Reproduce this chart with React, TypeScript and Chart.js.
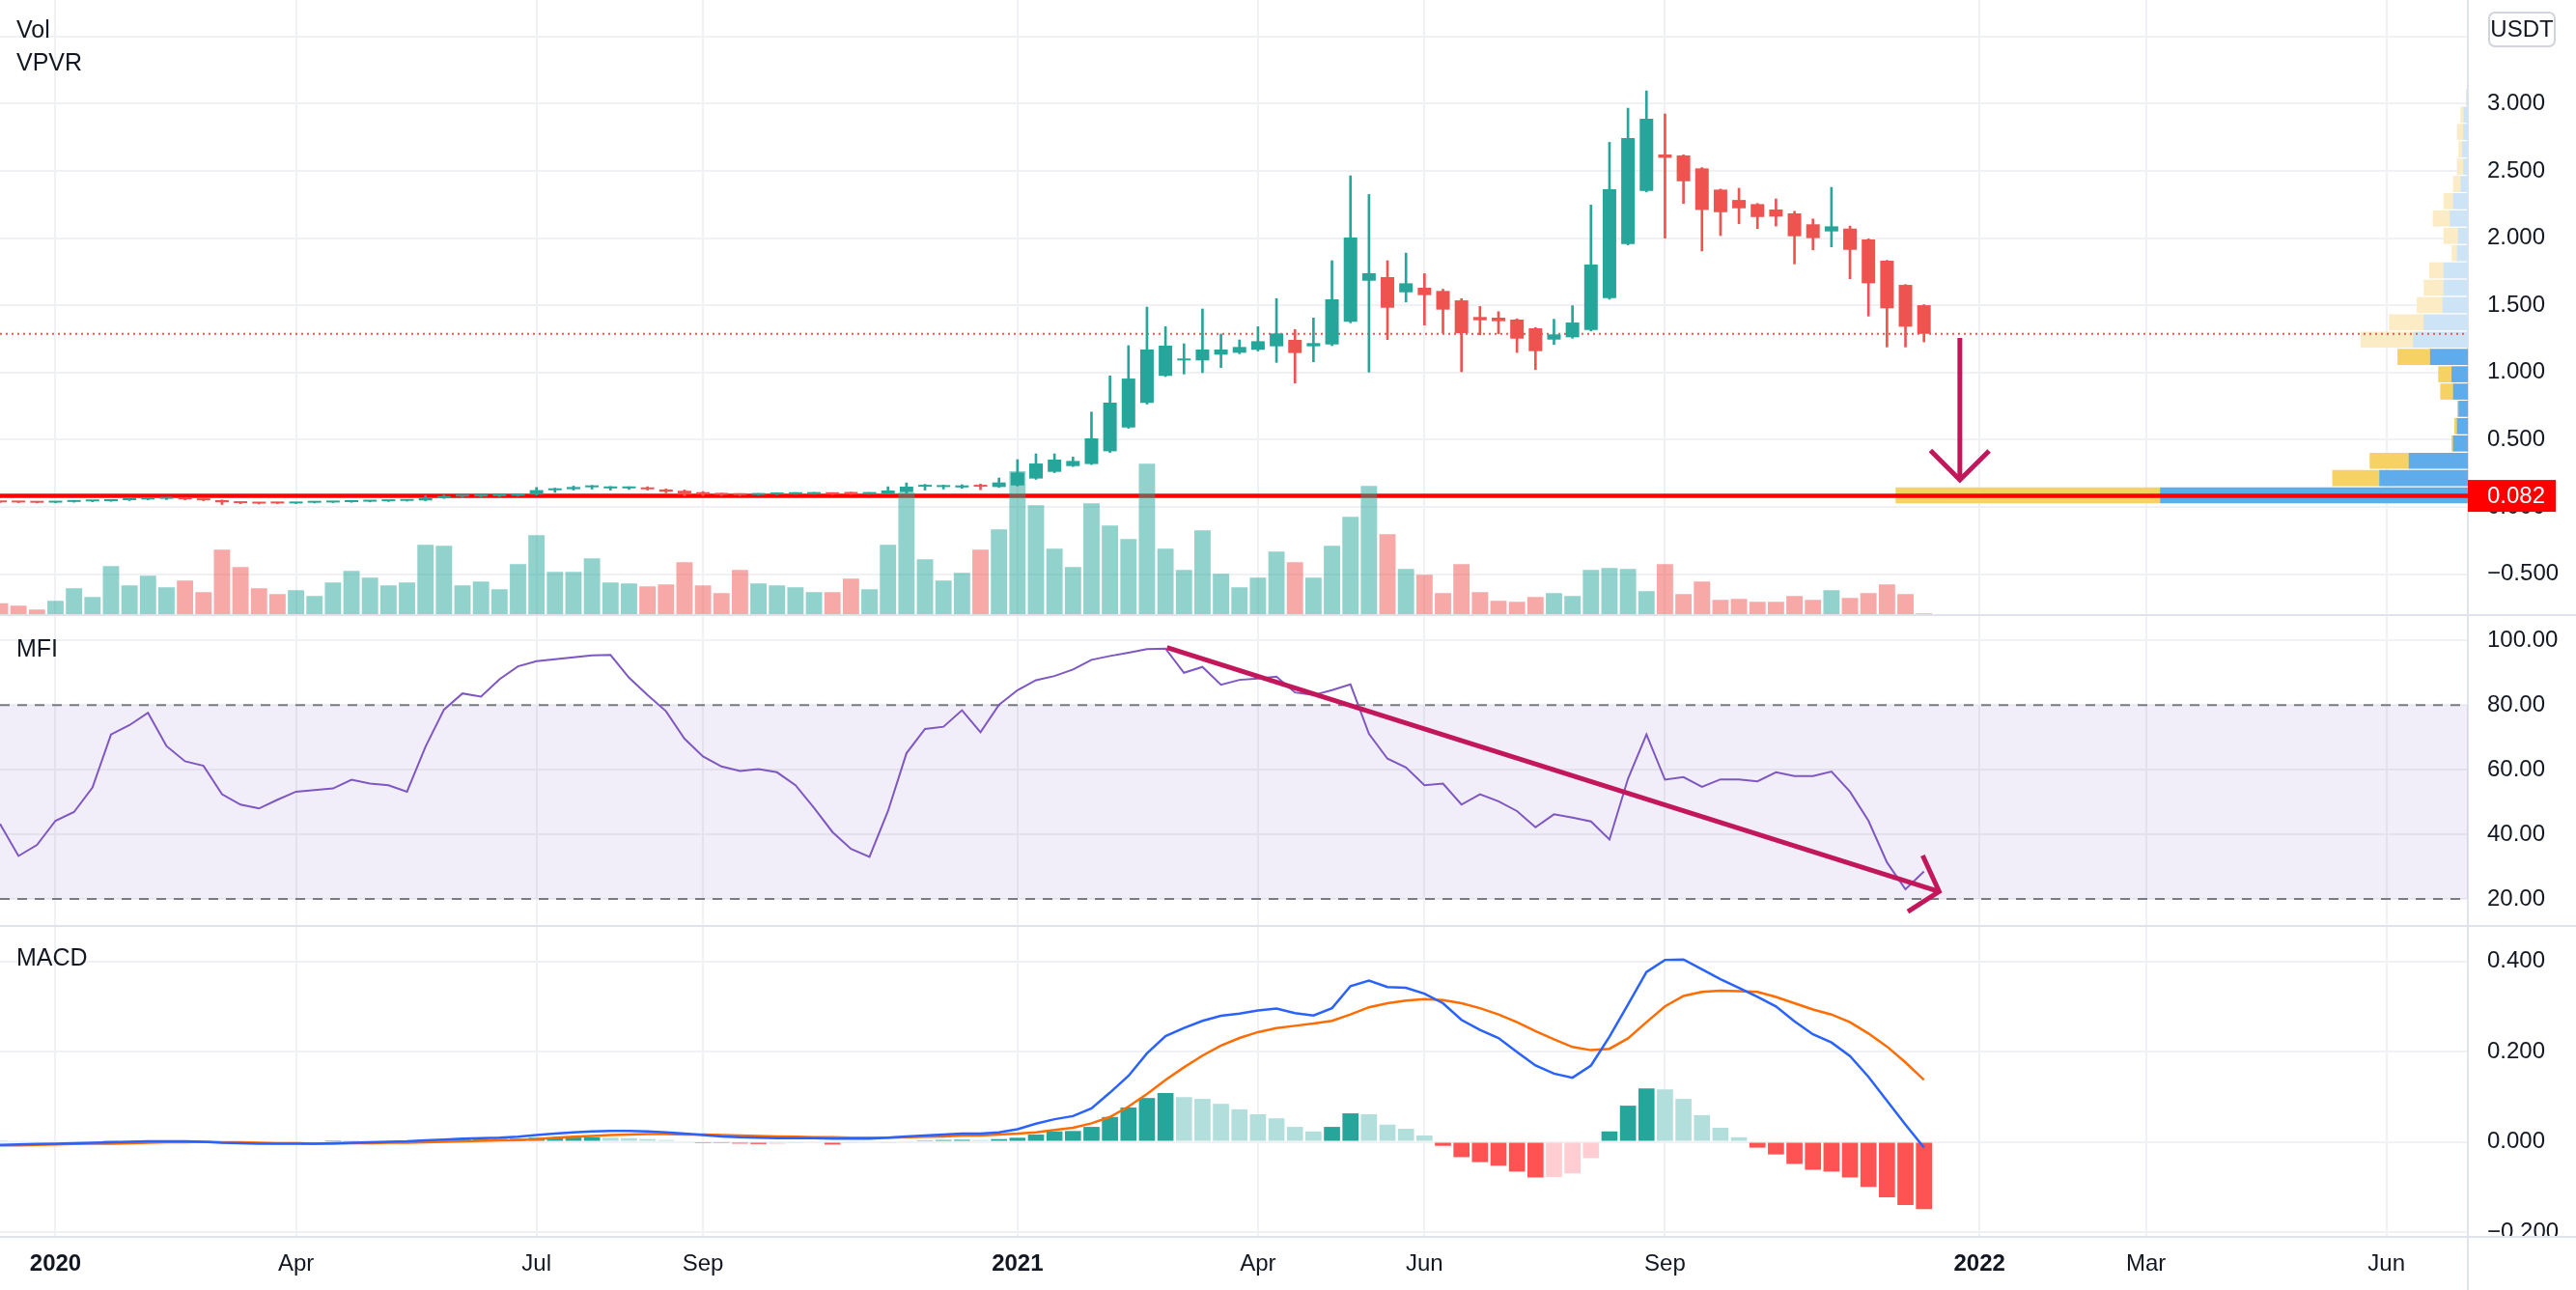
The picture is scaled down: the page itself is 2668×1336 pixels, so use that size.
import React, { useEffect, useRef } from 'react';
import { Chart, registerables } from 'chart.js';

Chart.register(...registerables);

const FONT = "'Liberation Sans', Arial, sans-serif";
Chart.defaults.font.family = FONT;
Chart.defaults.font.size = 24;
Chart.defaults.color = '#131722';

// ---------------- data ----------------
// weekly bars; week 0 = first weekly bar of 2020
const FIRST_WEEK = -3;

const OPEN = [
  0.037, 0.034, 0.033, 0.032, 0.037, 0.041, 0.043, 0.050, 0.055, 0.060,
  0.062, 0.056, 0.050, 0.034, 0.028, 0.028, 0.026, 0.031, 0.033, 0.036,
  0.039, 0.042, 0.045, 0.048, 0.066, 0.077, 0.078, 0.080, 0.083, 0.092,
  0.124, 0.132, 0.146, 0.138, 0.138, 0.142, 0.130, 0.120, 0.110, 0.100,
  0.095, 0.089, 0.093, 0.095, 0.096, 0.101, 0.106, 0.096, 0.097, 0.110,
  0.150, 0.148, 0.145, 0.155, 0.148, 0.160, 0.211, 0.261, 0.304, 0.319,
  0.414, 0.591, 0.774, 0.975, 1.090, 1.090, 1.133, 1.147, 1.169, 1.195,
  1.243, 1.195, 1.209, 1.377, 1.683, 1.710, 1.597, 1.631, 1.607, 1.537,
  1.413, 1.408, 1.394, 1.329, 1.245, 1.262, 1.317, 1.554, 1.956, 2.351,
  2.622, 2.615, 2.519, 2.361, 2.284, 2.253, 2.213, 2.184, 2.103, 2.050,
  2.071, 1.990, 1.832, 1.652, 1.501,
];
const HIGH = [
  0.039, 0.036, 0.035, 0.039, 0.044, 0.045, 0.053, 0.058, 0.069, 0.066,
  0.064, 0.058, 0.052, 0.036, 0.031, 0.030, 0.033, 0.034, 0.038, 0.040,
  0.044, 0.047, 0.050, 0.085, 0.088, 0.084, 0.084, 0.086, 0.098, 0.145,
  0.140, 0.155, 0.160, 0.152, 0.150, 0.150, 0.133, 0.126, 0.114, 0.102,
  0.099, 0.100, 0.106, 0.107, 0.108, 0.106, 0.110, 0.107, 0.150, 0.179,
  0.168, 0.162, 0.165, 0.170, 0.215, 0.352, 0.395, 0.395, 0.371, 0.706,
  0.975, 1.200, 1.487, 1.341, 1.214, 1.473, 1.286, 1.243, 1.341, 1.550,
  1.320, 1.406, 1.832, 2.464, 2.325, 1.832, 1.889, 1.736, 1.620, 1.550,
  1.492, 1.453, 1.400, 1.335, 1.396, 1.497, 2.246, 2.713, 2.967, 3.096,
  2.924, 2.620, 2.525, 2.365, 2.371, 2.258, 2.292, 2.200, 2.143, 2.378,
  2.090, 1.995, 1.835, 1.655, 1.505,
];
const LOW = [
  0.033, 0.032, 0.030, 0.031, 0.035, 0.038, 0.041, 0.047, 0.052, 0.054,
  0.052, 0.046, 0.018, 0.024, 0.022, 0.024, 0.025, 0.029, 0.032, 0.034,
  0.037, 0.040, 0.043, 0.046, 0.063, 0.070, 0.074, 0.076, 0.080, 0.088,
  0.108, 0.125, 0.132, 0.125, 0.130, 0.125, 0.105, 0.082, 0.085, 0.084,
  0.084, 0.087, 0.090, 0.093, 0.094, 0.092, 0.093, 0.094, 0.095, 0.100,
  0.125, 0.133, 0.138, 0.128, 0.145, 0.155, 0.205, 0.255, 0.300, 0.315,
  0.405, 0.585, 0.765, 0.970, 0.989, 0.999, 1.037, 1.140, 1.160, 1.075,
  0.922, 1.080, 1.200, 1.370, 1.003, 1.245, 1.525, 1.353, 1.293, 1.006,
  1.281, 1.288, 1.149, 1.022, 1.209, 1.255, 1.310, 1.545, 1.950, 2.345,
  2.000, 2.258, 1.904, 2.019, 2.107, 2.071, 2.090, 1.808, 1.913, 1.935,
  1.698, 1.420, 1.190, 1.190, 1.228,
];
const CLOSE = [
  0.034, 0.033, 0.031, 0.037, 0.041, 0.043, 0.050, 0.055, 0.060, 0.062,
  0.056, 0.049, 0.034, 0.028, 0.025, 0.026, 0.031, 0.033, 0.036, 0.039,
  0.042, 0.045, 0.048, 0.066, 0.078, 0.080, 0.081, 0.083, 0.092, 0.125,
  0.132, 0.148, 0.152, 0.142, 0.143, 0.131, 0.113, 0.092, 0.093, 0.090,
  0.088, 0.096, 0.103, 0.103, 0.104, 0.095, 0.097, 0.103, 0.122, 0.151,
  0.163, 0.155, 0.160, 0.150, 0.182, 0.256, 0.323, 0.352, 0.342, 0.510,
  0.776, 0.955, 1.171, 1.200, 1.098, 1.171, 1.171, 1.190, 1.233, 1.291,
  1.145, 1.219, 1.545, 2.004, 1.739, 1.482, 1.664, 1.576, 1.468, 1.293,
  1.389, 1.382, 1.252, 1.159, 1.284, 1.372, 1.803, 2.363, 2.744, 2.888,
  2.598, 2.423, 2.210, 2.193, 2.222, 2.157, 2.160, 2.014, 2.000, 2.088,
  1.913, 1.664, 1.478, 1.341, 1.288,
];
// weekly volume, millions
const VOLUME = [
  530, 430, 270, 630, 1150, 790, 2070, 1270, 1670, 1190,
  1470, 990, 2750, 2030, 1150, 910, 1070, 830, 1390, 1870,
  1590, 1270, 1390, 2950, 2910, 1270, 1430, 1110, 2150, 3350,
  1830, 1830, 2390, 1390, 1350, 1230, 1310, 2230, 1270, 950,
  1910, 1350, 1270, 1190, 990, 990, 1550, 1110, 2950, 5120,
  2350, 1470, 1790, 2750, 3590, 6000, 4590, 2790, 2030, 4670,
  3750, 3190, 6310, 2790, 1910, 3550, 1750, 1190, 1590, 2670,
  2230, 1590, 2910, 4110, 5390, 3390, 1950, 1710, 950, 2150,
  990, 630, 590, 790, 950, 830, 1910, 1990, 1950, 1030,
  2150, 910, 1430, 670, 710, 590, 590, 830, 670, 1070,
  750, 950, 1310, 910, 110,
];
const MFI = [
  43.2, 33.3, 36.7, 44.2, 46.9, 54.5, 70.9, 73.8, 77.6, 67.3,
  62.6, 61.2, 52.4, 49.2, 48.0, 50.7, 53.2, 53.7, 54.2, 56.9,
  55.7, 55.2, 53.2, 67.1, 78.6, 83.6, 82.6, 88.0, 92.0, 93.6,
  94.2, 94.8, 95.4, 95.5, 88.5, 83.1, 78.1, 69.6, 64.1, 61.0,
  59.6, 60.2, 59.2, 55.2, 48.2, 40.7, 35.5, 33.0, 47.2, 65.1,
  72.6, 73.3, 78.4, 71.6, 80.1, 84.6, 87.7, 89.0, 91.0, 94.0,
  95.2, 96.2, 97.3, 97.5, 90.0, 91.8, 86.3, 87.8, 88.2, 88.8,
  83.9, 83.1, 84.6, 86.4, 71.1, 63.4, 60.7, 55.2, 55.7, 49.2,
  52.4, 50.2, 47.2, 42.2, 46.2, 45.2, 44.0, 38.4, 57.2, 70.9,
  56.9, 57.7, 54.7, 57.0, 57.0, 56.4, 59.2, 58.0, 58.0, 59.4,
  53.2, 44.2, 31.3, 23.0, 28.5,
];
const MACD = [
  -0.007, -0.006, -0.005, -0.004, -0.003, -0.002, -0.001, 0.000, 0.001, 0.001,
  0.001, 0.000, -0.002, -0.003, -0.004, -0.004, -0.004, -0.004, -0.003, -0.002,
  -0.001, 0.000, 0.001, 0.003, 0.005, 0.007, 0.008, 0.009, 0.011, 0.015,
  0.018, 0.021, 0.023, 0.024, 0.024, 0.023, 0.021, 0.018, 0.015, 0.012,
  0.010, 0.009, 0.008, 0.008, 0.008, 0.007, 0.007, 0.007, 0.009, 0.012,
  0.014, 0.016, 0.018, 0.018, 0.021, 0.028, 0.040, 0.050, 0.057, 0.074,
  0.109, 0.146, 0.196, 0.234, 0.252, 0.268, 0.279, 0.284, 0.291, 0.295,
  0.285, 0.280, 0.296, 0.345, 0.357, 0.343, 0.341, 0.328, 0.307, 0.270,
  0.248, 0.230, 0.199, 0.169, 0.151, 0.142, 0.169, 0.233, 0.304, 0.376,
  0.403, 0.404, 0.382, 0.360, 0.341, 0.321, 0.300, 0.267, 0.238, 0.220,
  0.190, 0.144, 0.091, 0.038, -0.013,
];
const SIGNAL = [
  -0.008, -0.008, -0.007, -0.006, -0.005, -0.004, -0.004, -0.003, -0.002, -0.001,
  -0.001, 0.000, -0.001, -0.001, -0.002, -0.003, -0.003, -0.004, -0.004, -0.003,
  -0.003, -0.002, -0.002, -0.001, 0.000, 0.001, 0.002, 0.003, 0.004, 0.006,
  0.009, 0.011, 0.013, 0.015, 0.016, 0.017, 0.017, 0.016, 0.016, 0.015,
  0.014, 0.013, 0.012, 0.011, 0.010, 0.010, 0.009, 0.009, 0.009, 0.010,
  0.011, 0.012, 0.014, 0.014, 0.016, 0.018, 0.021, 0.026, 0.031, 0.041,
  0.055, 0.078, 0.106, 0.137, 0.165, 0.191, 0.213, 0.230, 0.243, 0.252,
  0.257, 0.262, 0.268, 0.282, 0.298, 0.307, 0.313, 0.316, 0.314, 0.307,
  0.296, 0.282, 0.265, 0.245, 0.227, 0.210, 0.203, 0.206, 0.229, 0.265,
  0.300, 0.323, 0.332, 0.335, 0.334, 0.332, 0.321, 0.307, 0.293, 0.282,
  0.265, 0.240, 0.211, 0.176, 0.137,
];
const HIST = [
  0.001, 0.002, 0.002, 0.002, 0.002, 0.002, 0.003, 0.003, 0.003, 0.002,
  0.002, 0.000, -0.001, -0.002, -0.002, -0.001, -0.0005, 0.000, 0.001, 0.001,
  0.002, 0.002, 0.003, 0.004, 0.005, 0.006, 0.0062, 0.0065, 0.007, 0.009,
  0.0092, 0.010, 0.0102, 0.009, 0.008, 0.006, 0.004, 0.002, -0.001, -0.003,
  -0.004, -0.005, -0.0045, -0.003, -0.002, -0.006, -0.003, -0.002, -0.001, 0.002,
  0.003, 0.004, 0.0045, 0.004, 0.006, 0.009, 0.016, 0.023, 0.024, 0.033,
  0.055, 0.076, 0.097, 0.108, 0.099, 0.095, 0.084, 0.072, 0.061, 0.052,
  0.033, 0.023, 0.033, 0.063, 0.061, 0.038, 0.029, 0.014, -0.009, -0.034,
  -0.045, -0.053, -0.066, -0.079, -0.078, -0.070, -0.036, 0.023, 0.080, 0.118,
  0.116, 0.095, 0.059, 0.031, 0.010, -0.013, -0.028, -0.049, -0.062, -0.066,
  -0.079, -0.100, -0.123, -0.140, -0.149,
];

const X_TICK_WEEKS = [0, 13, 26, 35, 52, 65, 74, 87, 104, 113, 126];
const X_TICK_LABELS = ['2020', 'Apr', 'Jul', 'Sep', '2021', 'Apr', 'Jun', 'Sep', '2022', 'Mar', 'Jun'];
const PRICE_TICKS = [-0.5, 0, 0.5, 1, 1.5, 2, 2.5, 3, 3.5];
const PRICE_TICK_LABELS = ['\u22120.500', '0.000', '0.500', '1.000', '1.500', '2.000', '2.500', '3.000', ''];
const MFI_TICKS = [20, 40, 60, 80, 100];
const MFI_TICK_LABELS = ['20.00', '40.00', '60.00', '80.00', '100.00'];
const MACD_TICKS = [-0.2, 0, 0.2, 0.4];
const MACD_TICK_LABELS = ['\u22120.200', '0.000', '0.200', '0.400'];

const SUPPORT_LEVEL = 0.082;
const MFI_BANDS = [20, 80];
const QUOTE_CURRENCY = 'USDT';
const MAIN_LEGEND = ['Vol', 'VPVR'];
const MFI_LEGEND = 'MFI';
const MACD_LEGEND = 'MACD';

// visible-range volume profile (row price, up volume, down volume), millions
const VP_PRICES = [
  0.086, 0.215, 0.343, 0.472, 0.601, 0.730, 0.858, 0.987, 1.116, 1.245, 1.373, 1.502,
  1.631, 1.760, 1.888, 2.017, 2.146, 2.275, 2.403, 2.532, 2.661, 2.790, 2.918, 3.047,
];
const VP_UP = [
  31840, 9140, 6090, 1500, 1100, 940, 1500, 1660, 3880, 5650, 4540, 2600,
  2500, 2500, 1100, 1000, 1830, 1500, 720, 450, 550, 450, 400, 110,
];
const VP_DOWN = [
  27400, 4870, 4050, 170, 280, 130, 1330, 1380, 3380, 5430, 3600, 2660,
  2040, 1490, 550, 1500, 1770, 1000, 780, 660, 390, 660, 330, 50,
];
const VP_VALUE_AREA_HIGH = 1.18;

// drawn arrows (week, value)
const PRICE_ARROW_SHAFT = [{ x: 102.94, y: 1.257 }, { x: 102.94, y: 0.201 }];
const PRICE_ARROW_HEAD = [{ x: 101.35, y: 0.42 }, { x: 102.94, y: 0.201 }, { x: 104.52, y: 0.417 }];
const MFI_ARROW_SHAFT = [{ x: 60.08, y: 97.8 }, { x: 101.82, y: 22.3 }];
const MFI_ARROW_HEAD = [{ x: 100.93, y: 33.45 }, { x: 101.82, y: 22.3 }, { x: 100.13, y: 16.1 }];

// ---------------- layout / style ----------------
const W = 2668;
const H = 1336;
const PANE_H = [638, 322, 376];
const PANE_TOP = [0, 638, 960];
const AXIS_W = 112;
const X_AXIS_H = 55;
const X_MIN = -3.0;
const X_MAX = 130.4;
const PRICE_MIN = -0.812;
const PRICE_MAX = 3.772;
const VOL_MAX = 25520;
const VP_MAX = 255600;
const MFI_MIN = 11.33;
const MFI_MAX = 107.56;
const MACD_MIN = -0.2107;
const MACD_MAX = 0.476;

const TEXT = '#131722';
const GRID = '#f0f1f4';
const PANE_LINE = '#e0e3eb';
const UP = '#26a69a';
const DOWN = '#ef5350';
const UP_VOL = 'rgba(38,166,154,0.5)';
const DOWN_VOL = 'rgba(239,83,80,0.5)';
const ARROW = '#c2185b';

const noPadding = (s: any) => {
  s.paddingTop = 0;
  s.paddingBottom = 0;
  s.paddingLeft = 0;
  s.paddingRight = 0;
};

const xAxis = (show: boolean): any => ({
  type: 'linear', axis: 'x', position: 'bottom', min: X_MIN, max: X_MAX, bounds: 'data', offset: false,
  afterBuildTicks: (s: any) => { s.ticks = X_TICK_WEEKS.map((v) => ({ value: v })); },
  afterFit: (s: any) => { s.height = show ? X_AXIS_H : 0; noPadding(s); },
  grid: { color: GRID, lineWidth: 2, drawTicks: false, offset: false },
  border: { display: false },
  ticks: {
    display: show, autoSkip: false, maxRotation: 0, minRotation: 0, padding: 14, color: TEXT,
    font: (c: any) => ({ family: FONT, size: 24, weight: /^\d{4}$/.test(X_TICK_LABELS[c.index] || '') ? 'bold' : 'normal' }),
    callback: (v: any) => { const k = X_TICK_WEEKS.indexOf(Number(v)); return k >= 0 ? X_TICK_LABELS[k] : ''; },
  },
});

const yAxis = (min: number, max: number, ticks: number[], labels: string[]): any => ({
  type: 'linear', axis: 'y', position: 'right', min, max, bounds: 'data',
  afterBuildTicks: (s: any) => { s.ticks = ticks.map((v) => ({ value: v })); },
  afterFit: (s: any) => { s.width = AXIS_W; noPadding(s); },
  grid: { color: GRID, lineWidth: 2, drawTicks: false },
  border: { display: true, color: PANE_LINE, width: 2 },
  ticks: {
    padding: 20, color: TEXT, font: { family: FONT, size: 24 },
    callback: (v: any) => { const k = ticks.indexOf(Number(v)); return k >= 0 ? labels[k] : ''; },
  },
});

const hiddenAxis = (axis: string, min: number, max: number, reverse = false): any => ({
  type: 'linear', axis, min, max, reverse, display: false, bounds: 'data', offset: false, grid: { offset: false },
  afterFit: noPadding,
});

const line = (data: any[], color: string, width: number, order: number, extra: any = {}): any => ({
  type: 'line', data, borderColor: color, borderWidth: width, pointRadius: 0, tension: 0,
  order, xAxisID: 'x', yAxisID: 'y', ...extra,
});

function legend(ctx: CanvasRenderingContext2D, text: string, y: number) {
  ctx.save();
  ctx.font = `25px ${FONT}`;
  ctx.fillStyle = TEXT;
  ctx.textAlign = 'left';
  ctx.textBaseline = 'middle';
  ctx.fillText(text, 17, y);
  ctx.restore();
}

export default function App() {
  const c1 = useRef<HTMLCanvasElement>(null);
  const c2 = useRef<HTMLCanvasElement>(null);
  const c3 = useRef<HTMLCanvasElement>(null);

  useEffect(() => {
    const weeks = OPEN.map((_, k) => FIRST_WEEK + k);
    const rising = OPEN.map((o, k) => CLOSE[k] >= o);
    const candleColors = rising.map((r) => (r ? UP : DOWN));
    const volColors = rising.map((r) => (r ? UP_VOL : DOWN_VOL));
    const lastClose = CLOSE[CLOSE.length - 1];
    const histColors = HIST.map((h, k) => {
      const prev = k > 0 ? HIST[k - 1] : h;
      if (h >= 0) return prev < h ? '#26a69a' : '#b2dfdb';
      return prev < h ? '#ffcdd2' : '#ff5252';
    });
    const inValueArea = VP_PRICES.map((p) => p <= VP_VALUE_AREA_HIGH);

    const common: any = {
      responsive: false, maintainAspectRatio: false, animation: false, devicePixelRatio: 1,
      events: [], layout: { padding: 0, autoPadding: false },
      plugins: { legend: { display: false }, tooltip: { enabled: false } },
    };

    const mainPlugin = {
      id: 'mainDecor',
      afterDraw(chart: any) {
        const { ctx, chartArea, scales } = chart;
        legend(ctx, MAIN_LEGEND[0], 32);
        legend(ctx, MAIN_LEGEND[1], 66);
        ctx.save();
        const bx = chartArea.right + 22;
        ctx.beginPath();
        if ((ctx as any).roundRect) (ctx as any).roundRect(bx, 13, 68, 35, 6); else ctx.rect(bx, 13, 68, 35);
        ctx.fillStyle = '#ffffff';
        ctx.fill();
        ctx.strokeStyle = '#d1d4dc';
        ctx.lineWidth = 2;
        ctx.stroke();
        ctx.font = `24px ${FONT}`;
        ctx.fillStyle = TEXT;
        ctx.textAlign = 'center';
        ctx.textBaseline = 'middle';
        ctx.fillText(QUOTE_CURRENCY, bx + 34, 31);
        const ys = scales.y.getPixelForValue(SUPPORT_LEVEL);
        ctx.fillStyle = '#ff0000';
        ctx.fillRect(chartArea.right, ys - 16.5, 91, 33);
        ctx.fillStyle = '#ffffff';
        ctx.textAlign = 'left';
        ctx.fillText(SUPPORT_LEVEL.toFixed(3), chartArea.right + 20, ys + 1);
        ctx.fillStyle = PANE_LINE;
        ctx.fillRect(0, chart.height - 2, chart.width, 2);
        ctx.restore();
      },
    };

    const mfiPlugin = {
      id: 'mfiDecor',
      beforeDatasetsDraw(chart: any) {
        const { ctx, chartArea, scales } = chart;
        const yTop = scales.y.getPixelForValue(MFI_BANDS[1]);
        const yBot = scales.y.getPixelForValue(MFI_BANDS[0]);
        ctx.save();
        ctx.fillStyle = 'rgba(126,87,194,0.1)';
        ctx.fillRect(chartArea.left, yTop, chartArea.right - chartArea.left, yBot - yTop);
        ctx.strokeStyle = '#787b86';
        ctx.lineWidth = 2;
        ctx.setLineDash([10, 8]);
        [yTop, yBot].forEach((yy) => {
          ctx.beginPath();
          ctx.moveTo(chartArea.left, yy);
          ctx.lineTo(chartArea.right, yy);
          ctx.stroke();
        });
        ctx.restore();
      },
      afterDraw(chart: any) {
        const { ctx } = chart;
        legend(ctx, MFI_LEGEND, 35.5);
        ctx.save();
        ctx.fillStyle = PANE_LINE;
        ctx.fillRect(0, chart.height - 2, chart.width, 2);
        ctx.restore();
      },
    };

    const macdPlugin = {
      id: 'macdDecor',
      afterDraw(chart: any) {
        const { ctx, chartArea } = chart;
        legend(ctx, MACD_LEGEND, 33.5);
        ctx.save();
        ctx.fillStyle = '#ffffff';
        ctx.fillRect(chartArea.right + 1, chartArea.bottom, chart.width - chartArea.right, chart.height - chartArea.bottom);
        ctx.fillStyle = PANE_LINE;
        ctx.fillRect(0, chartArea.bottom - 1, chart.width, 2);
        ctx.fillRect(chartArea.right - 1, chartArea.bottom, 2, chart.height - chartArea.bottom);
        ctx.restore();
      },
    };

    const mainChart = new Chart(c1.current as HTMLCanvasElement, {
      type: 'bar',
      data: {
        datasets: [
          line(PRICE_ARROW_SHAFT, ARROW, 5, 0, { borderCapStyle: 'butt' }),
          line(PRICE_ARROW_HEAD, ARROW, 5, 0, { borderJoinStyle: 'miter' }),
          {
            type: 'bar', data: weeks.map((w, k) => ({ x: w, y: [OPEN[k], CLOSE[k]] })),
            backgroundColor: candleColors, barPercentage: 0.73, categoryPercentage: 1, grouped: false,
            minBarLength: 2, order: 1, xAxisID: 'x', yAxisID: 'y',
          },
          {
            type: 'bar', data: weeks.map((w, k) => ({ x: w, y: [LOW[k], HIGH[k]] })),
            backgroundColor: candleColors, barThickness: 2, grouped: false, order: 2, xAxisID: 'x', yAxisID: 'y',
          },
          {
            type: 'bar', data: weeks.map((w, k) => ({ x: w, y: VOLUME[k] })),
            backgroundColor: volColors, barPercentage: 0.88, categoryPercentage: 1, grouped: false,
            order: 3, xAxisID: 'x', yAxisID: 'yv',
          },
          line([{ x: X_MIN, y: SUPPORT_LEVEL }, { x: X_MAX, y: SUPPORT_LEVEL }], '#ff0000', 4.5, 4),
          line([{ x: X_MIN, y: lastClose }, { x: X_MAX, y: lastClose }], DOWN, 2, 5, { borderDash: [2, 4] }),
          {
            type: 'bar', indexAxis: 'y', xAxisID: 'xv', yAxisID: 'yp',
            data: VP_PRICES.map((p, k) => ({ y: p, x: [0, VP_UP[k]] })),
            backgroundColor: inValueArea.map((v) => (v ? '#5eaceb' : '#cde3f6')),
            barThickness: 16, grouped: false, order: 6,
          },
          {
            type: 'bar', indexAxis: 'y', xAxisID: 'xv', yAxisID: 'yp',
            data: VP_PRICES.map((p, k) => ({ y: p, x: [VP_UP[k], VP_UP[k] + VP_DOWN[k]] })),
            backgroundColor: inValueArea.map((v) => (v ? '#f6d265' : '#fbecc6')),
            barThickness: 16, grouped: false, order: 7,
          },
        ] as any,
      },
      options: {
        ...common,
        scales: {
          x: xAxis(false),
          y: yAxis(PRICE_MIN, PRICE_MAX, PRICE_TICKS, PRICE_TICK_LABELS),
          yv: hiddenAxis('y', 0, VOL_MAX),
          yp: hiddenAxis('y', PRICE_MIN, PRICE_MAX),
          xv: hiddenAxis('x', 0, VP_MAX, true),
        },
      } as any,
      plugins: [mainPlugin],
    });

    const mfiChart = new Chart(c2.current as HTMLCanvasElement, {
      type: 'line',
      data: {
        datasets: [
          line(MFI_ARROW_SHAFT, ARROW, 5, 0, { borderCapStyle: 'butt' }),
          line(MFI_ARROW_HEAD, ARROW, 5, 0, { borderJoinStyle: 'miter' }),
          line(weeks.map((w, k) => ({ x: w, y: MFI[k] })), '#7e57c2', 2, 1),
        ] as any,
      },
      options: {
        ...common,
        scales: {
          x: xAxis(false),
          y: yAxis(MFI_MIN, MFI_MAX, MFI_TICKS, MFI_TICK_LABELS),
        },
      } as any,
      plugins: [mfiPlugin],
    });

    const macdChart = new Chart(c3.current as HTMLCanvasElement, {
      type: 'bar',
      data: {
        datasets: [
          line(weeks.map((w, k) => ({ x: w, y: MACD[k] })), '#2962ff', 2.5, 0),
          line(weeks.map((w, k) => ({ x: w, y: SIGNAL[k] })), '#ff6d00', 2.5, 1),
          {
            type: 'bar', data: weeks.map((w, k) => ({ x: w, y: HIST[k] })),
            backgroundColor: histColors, barPercentage: 0.87, categoryPercentage: 1, grouped: false,
            order: 2, xAxisID: 'x', yAxisID: 'y',
          },
        ] as any,
      },
      options: {
        ...common,
        scales: {
          x: xAxis(true),
          y: yAxis(MACD_MIN, MACD_MAX, MACD_TICKS, MACD_TICK_LABELS),
        },
      } as any,
      plugins: [macdPlugin],
    });

    return () => {
      mainChart.destroy();
      mfiChart.destroy();
      macdChart.destroy();
    };
  }, []);

  const canvasStyle = (k: number): React.CSSProperties => ({
    position: 'absolute', left: 0, top: PANE_TOP[k], width: W, height: PANE_H[k], display: 'block',
  });

  return (
    <div style={{ position: 'fixed', left: 0, top: 0, width: W, height: H, background: '#ffffff', overflow: 'hidden' }}>
      <canvas ref={c1} width={W} height={PANE_H[0]} style={canvasStyle(0)} />
      <canvas ref={c2} width={W} height={PANE_H[1]} style={canvasStyle(1)} />
      <canvas ref={c3} width={W} height={PANE_H[2]} style={canvasStyle(2)} />
    </div>
  );
}
